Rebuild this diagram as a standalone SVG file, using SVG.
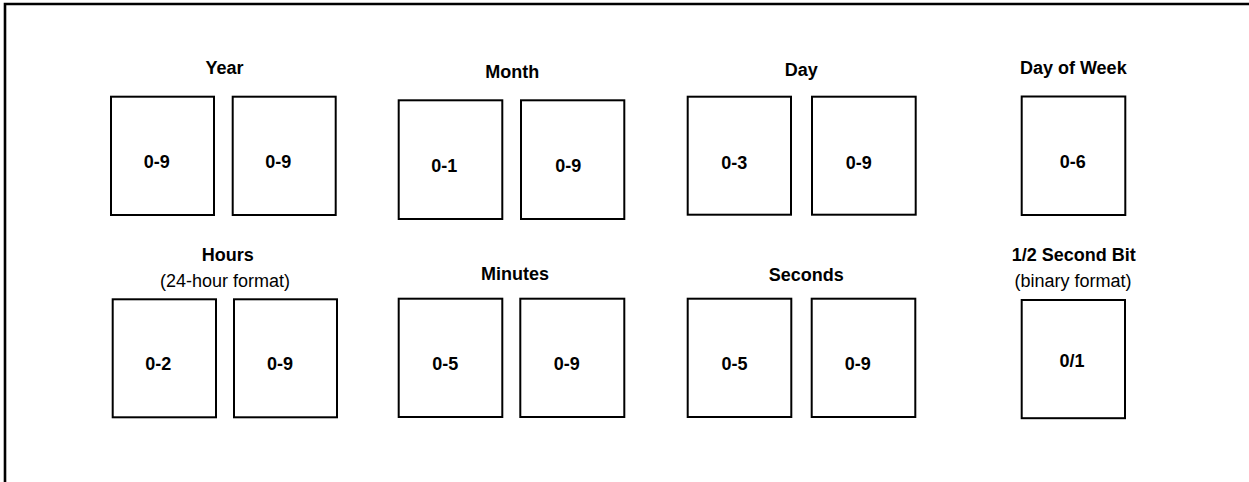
<svg xmlns="http://www.w3.org/2000/svg" width="1249" height="482" viewBox="0 0 1249 482">
  <style>
    .box { fill: #ffffff; stroke: #000000; stroke-width: 2; }
    .frame { fill: none; stroke: #000000; stroke-width: 2.6; }
    .t { font-family: "Liberation Sans", Arial, sans-serif; font-size: 18px; fill: #000000; text-anchor: middle; }
    .b { font-weight: bold; }
  </style>
  <rect width="1249" height="482" fill="#ffffff"/>
  <path class="frame" d="M5,484 V4 H1251"/>

  <g id="year">
    <text class="t b" x="224.5" y="74">Year</text>
    <rect class="box" x="111" y="96.7" width="103" height="118.3"/>
    <rect class="box" x="232.7" y="96.7" width="103" height="118.3"/>
    <text class="t b" x="156.7" y="168.3">0-9</text>
    <text class="t b" x="278.3" y="168.3">0-9</text>
  </g>

  <g id="month">
    <text class="t b" x="512.2" y="77.7">Month</text>
    <rect class="box" x="398.7" y="100.3" width="103.6" height="118.7"/>
    <rect class="box" x="521" y="100.3" width="103.3" height="118.7"/>
    <text class="t b" x="444.2" y="171.7">0-1</text>
    <text class="t b" x="568.3" y="171.7">0-9</text>
  </g>

  <g id="day">
    <text class="t b" x="801.3" y="75.7">Day</text>
    <rect class="box" x="687.7" y="96.7" width="103.3" height="118"/>
    <rect class="box" x="812" y="96.7" width="103.7" height="118"/>
    <text class="t b" x="734.3" y="169">0-3</text>
    <text class="t b" x="858.7" y="169">0-9</text>
  </g>

  <g id="day-of-week">
    <text class="t b" x="1073.3" y="74">Day of Week</text>
    <rect class="box" x="1021.7" y="96.5" width="103.6" height="118.5"/>
    <text class="t b" x="1072.7" y="168.3">0-6</text>
  </g>

  <g id="hours">
    <text class="t b" x="227.8" y="260.7">Hours</text>
    <text class="t" x="225" y="286.7">(24-hour format)</text>
    <rect class="box" x="112.7" y="299.3" width="103.3" height="118"/>
    <rect class="box" x="234" y="299.3" width="103" height="118"/>
    <text class="t b" x="158.3" y="370">0-2</text>
    <text class="t b" x="280" y="370">0-9</text>
  </g>

  <g id="minutes">
    <text class="t b" x="515" y="280">Minutes</text>
    <rect class="box" x="398.7" y="298.7" width="103.6" height="118.3"/>
    <rect class="box" x="520.3" y="298.7" width="104" height="118.3"/>
    <text class="t b" x="445.3" y="370">0-5</text>
    <text class="t b" x="566.7" y="370">0-9</text>
  </g>

  <g id="seconds">
    <text class="t b" x="806.3" y="280.7">Seconds</text>
    <rect class="box" x="687.7" y="298.7" width="103.6" height="118.3"/>
    <rect class="box" x="811.7" y="298.7" width="103.6" height="118.3"/>
    <text class="t b" x="734.5" y="370">0-5</text>
    <text class="t b" x="857.8" y="370">0-9</text>
  </g>

  <g id="half-second-bit">
    <text class="t b" x="1073.7" y="260.7">1/2 Second Bit</text>
    <text class="t" x="1073" y="287.3">(binary format)</text>
    <rect class="box" x="1021.7" y="300" width="103.3" height="118.2"/>
    <text class="t b" x="1072" y="366.7">0/1</text>
  </g>

  <g id="connectors"></g>
</svg>
